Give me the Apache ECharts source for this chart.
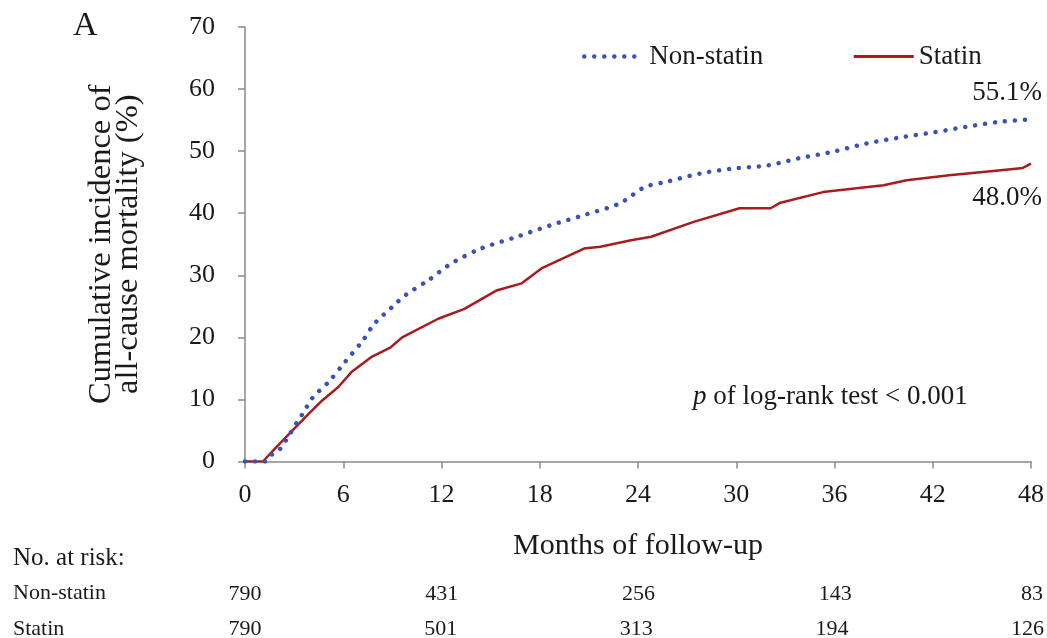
<!DOCTYPE html>
<html>
<head>
<meta charset="utf-8">
<script src="https://cdn.jsdelivr.net/npm/echarts@6/dist/echarts.min.js"></script>
<style>
  html, body { margin: 0; padding: 0; background: #fff; }
  #main { width: 1047px; height: 638px; }
</style>
</head>
<body>
<div id="main"></div>
<script>
// curves (months, cumulative incidence %)
var nonStatinMonths = [0, 1.2, 1.5, 2.1, 3.2, 3.6, 4.1, 5.1, 6.1, 7.2, 7.9, 9.0, 9.8, 11.2, 12.6, 14.4, 16.6, 18.7, 20.7, 22.9, 24.4, 25.8, 27.8, 29.8, 31.9, 33.9, 35.9, 37.9, 40.0, 42.0, 44.0, 46.0, 48.0];
var nonStatinValues = [0, 0, 0.9, 1.9, 6.4, 8.0, 10.2, 12.8, 16.0, 19.5, 22.2, 24.9, 26.8, 29.2, 31.9, 34.3, 36.2, 38.1, 39.7, 41.6, 44.2, 45.1, 46.4, 47.2, 47.7, 48.9, 49.9, 51.2, 52.2, 53.0, 53.9, 54.7, 55.1];

var statinMonths = [0, 1.1, 1.8, 2.9, 3.9, 4.7, 5.7, 6.5, 7.7, 8.9, 9.6, 11.8, 13.4, 15.4, 16.9, 18.1, 20.7, 21.7, 23.5, 24.8, 27.4, 30.2, 32.1, 32.7, 35.3, 39.0, 40.4, 43.0, 46.0, 47.5, 48.0];
var statinValues = [0, 0, 2.0, 5.0, 7.7, 9.8, 12.0, 14.4, 16.8, 18.4, 20.0, 23.0, 24.6, 27.6, 28.7, 31.1, 34.3, 34.6, 35.6, 36.2, 38.6, 40.8, 40.8, 41.7, 43.4, 44.5, 45.3, 46.1, 46.9, 47.3, 48.0];

// number at risk table
var riskMonths = [0, 12, 24, 36, 48];
var nonStatinRisk = [790, 431, 256, 143, 83];
var statinRisk = [790, 501, 313, 194, 126];

var serif = "'Liberation Serif', 'Times New Roman', serif";
var ink = '#1a1a1a';
var axisGrey = '#8a8a8a';
var blue = '#3a52b3';
var red = '#a81c1f';

function pairs(xs, ys) {
  return xs.map(function (x, i) { return [x, ys[i]]; });
}

function pct(p) {
  return p.value[1].toFixed(1) + '%';
}

function riskAxis(grid, counts) {
  return {
    type: 'value', gridIndex: grid, min: 0, max: 48, interval: 12,
    axisLine: { show: false }, axisTick: { show: false }, splitLine: { show: false },
    axisLabel: {
      margin: 10, fontFamily: serif, fontSize: 22, color: ink,
      showMinLabel: true, showMaxLabel: true,
      formatter: function (v) {
        var i = riskMonths.indexOf(v);
        return i < 0 ? '' : String(counts[i]);
      }
    }
  };
}

var chart = echarts.init(document.getElementById('main'));

var option = {
  backgroundColor: '#fff',
  animation: false,
  title: {
    text: 'A', left: 68, top: 4,
    textStyle: { fontFamily: serif, fontSize: 34, fontWeight: 'normal', color: ink }
  },
  legend: {
    left: 577, top: 38,
    itemWidth: 60, itemHeight: 14, itemGap: 89,
    itemStyle: { opacity: 0 },
    textStyle: { fontFamily: serif, fontSize: 27, color: ink },
    data: [
      { name: 'Non-statin', lineStyle: { width: 4.5 } },
      { name: 'Statin', lineStyle: { width: 3 } }
    ]
  },
  grid: [
    { left: 245, right: 15, top: 27, bottom: 176.5 },
    { left: 245, right: 15, top: 572, height: 1 },
    { left: 245, right: 15, top: 608, height: 1 }
  ],
  xAxis: [
    {
      type: 'value', gridIndex: 0, min: 0, max: 48, interval: 6,
      name: 'Months of follow-up', nameLocation: 'middle', nameGap: 70,
      nameTextStyle: { fontFamily: serif, fontSize: 30, color: ink },
      axisLine: { lineStyle: { color: axisGrey, width: 1.5 } },
      axisTick: { show: true, length: 7, lineStyle: { color: axisGrey, width: 1.5 } },
      splitLine: { show: false },
      axisLabel: { margin: 21, fontFamily: serif, fontSize: 26, color: ink }
    },
    riskAxis(1, nonStatinRisk),
    riskAxis(2, statinRisk)
  ],
  yAxis: [
    {
      type: 'value', gridIndex: 0, min: 0, max: 70, interval: 10,
      name: 'Cumulative incidence of\nall-cause mortality (%)',
      nameLocation: 'middle', nameGap: 103,
      nameTextStyle: { fontFamily: serif, fontSize: 32.5, lineHeight: 27, color: ink },
      axisLine: { show: true, lineStyle: { color: axisGrey, width: 1.5 } },
      axisTick: { show: true, length: 7, lineStyle: { color: axisGrey, width: 1.5 } },
      splitLine: { show: false },
      axisLabel: { margin: 30, fontFamily: serif, fontSize: 26, color: ink }
    },
    { type: 'value', gridIndex: 1, show: false },
    { type: 'value', gridIndex: 2, show: false }
  ],
  series: [
    {
      name: 'Non-statin', type: 'line', xAxisIndex: 0, yAxisIndex: 0,
      data: pairs(nonStatinMonths, nonStatinValues),
      showSymbol: false, symbol: 'none', smooth: 0.3,
      lineStyle: { color: blue, width: 4.5, type: [0.01, 10], cap: 'round' },
      itemStyle: { color: blue },
      endLabel: {
        show: true, align: 'center', verticalAlign: 'middle', distance: 0,
        offset: [-24, -27],
        fontFamily: serif, fontSize: 27, color: ink,
        formatter: pct
      },
      z: 3
    },
    {
      name: 'Statin', type: 'line', xAxisIndex: 0, yAxisIndex: 0,
      data: pairs(statinMonths, statinValues),
      showSymbol: false, symbol: 'none',
      lineStyle: { color: red, width: 2.5 },
      itemStyle: { color: red },
      endLabel: {
        show: true, align: 'center', verticalAlign: 'middle', distance: 0,
        offset: [-24, 34],
        fontFamily: serif, fontSize: 27, color: ink,
        formatter: pct
      },
      z: 2
    }
  ],
  graphic: [
    {
      type: 'text', left: 693, top: 383,
      style: {
        text: '{i|p} of log-rank test < 0.001',
        rich: { i: { fontStyle: 'italic', fontFamily: serif, fontSize: 27, fill: ink } },
        font: '27px ' + serif, fill: ink
      }
    },
    { type: 'text', left: 13, top: 546, style: { text: 'No. at risk:', font: '25px ' + serif, fill: ink } },
    { type: 'text', left: 13, top: 582, style: { text: 'Non-statin', font: '22px ' + serif, fill: ink } },
    { type: 'text', left: 13, top: 618, style: { text: 'Statin', font: '22px ' + serif, fill: ink } }
  ]
};

chart.setOption(option);
</script>
</body>
</html>
